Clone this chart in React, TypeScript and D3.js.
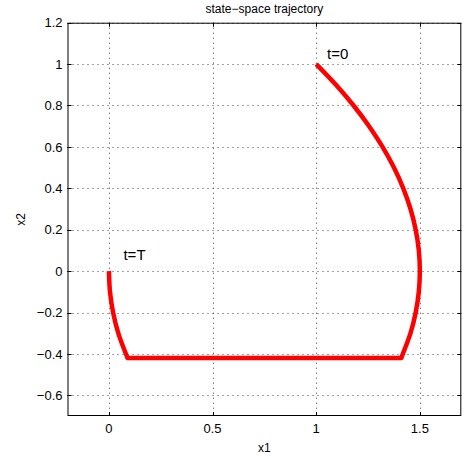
import React, { useEffect, useRef } from 'react';
import * as d3 from 'd3';

// trajectory (x1, x2)
const x1Values = [1.0, 1.095, 1.18, 1.255, 1.32, 1.375, 1.42, 1.455, 1.48, 1.495, 1.5, 1.495, 1.48, 1.455, 1.41, 0.09, 0.045, 0.02, 0.005, 0.0];
const x2Values = [1.0, 0.9, 0.8, 0.7, 0.6, 0.5, 0.4, 0.3, 0.2, 0.1, 0.0, -0.1, -0.2, -0.3, -0.42, -0.42, -0.3, -0.2, -0.1, 0.0];

const xTicks = [0, 0.5, 1, 1.5];
const yTicks = [-0.6, -0.4, -0.2, 0, 0.2, 0.4, 0.6, 0.8, 1, 1.2];

const annotations = [
    { label: 't=0', x1: 1.052, x2: 1.025 },
    { label: 't=T', x1: 0.07, x2: 0.052 },
];

const fmt = (v: number) => {
    const s = d3.format('~g')(Math.round(v * 10) / 10);
    return s.replace('-', '\u2013');
};

const App = () => {
    const svgRef = useRef<SVGSVGElement>(null);

    useEffect(() => {
        const svg = d3.select(svgRef.current);
        svg.selectAll('*').remove();

        const left = 67.5, right = 461.3, top = 22.7, bottom = 416;
        const width = right - left;
        const height = bottom - top;
        const font = 'Liberation Sans, Arial, Helvetica, sans-serif';

        const x = d3.scaleLinear().domain([-0.2, 1.7]).range([left, right]);
        const y = d3.scaleLinear().domain([-0.7, 1.2]).range([bottom, top]);

        svg.append('rect')
            .attr('x', left).attr('y', top)
            .attr('width', width).attr('height', height)
            .attr('fill', '#fff');

        // Grid lines
        const grid = svg.append('g')
            .attr('stroke', '#444')
            .attr('stroke-width', 1)
            .attr('stroke-dasharray', '1,4');
        grid.selectAll('.gx').data(xTicks).enter().append('line')
            .attr('x1', d => Math.round(x(d)) + 0.5).attr('x2', d => Math.round(x(d)) + 0.5)
            .attr('y1', top).attr('y2', bottom);
        grid.selectAll('.gy').data(yTicks).enter().append('line')
            .attr('y1', d => Math.round(y(d)) + 0.5).attr('y2', d => Math.round(y(d)) + 0.5)
            .attr('x1', left).attr('x2', right);

        // Inward ticks on all four sides
        const tickLen = 4;
        const ticks = svg.append('g').attr('stroke', '#000').attr('stroke-width', 1);
        xTicks.forEach(d => {
            const px = Math.round(x(d)) + 0.5;
            ticks.append('line').attr('x1', px).attr('x2', px).attr('y1', bottom).attr('y2', bottom - tickLen);
            ticks.append('line').attr('x1', px).attr('x2', px).attr('y1', top).attr('y2', top + tickLen);
        });
        yTicks.forEach(d => {
            const py = Math.round(y(d)) + 0.5;
            ticks.append('line').attr('y1', py).attr('y2', py).attr('x1', left).attr('x2', left + tickLen);
            ticks.append('line').attr('y1', py).attr('y2', py).attr('x1', right).attr('x2', right - tickLen);
        });

        // Trajectory
        const pts: [number, number][] = x1Values.map((v, i) => [v, x2Values[i]]);
        const lw = 4.5;

        const seg1 = pts.slice(0, 15);
        const seg2 = pts.slice(14, 16);
        const seg3 = pts.slice(15);
        svg.append('path').datum(seg1)
            .attr('fill', 'none').attr('stroke', '#ff0000').attr('stroke-width', lw)
            .attr('d', d3.line<[number, number]>().x(d => x(d[0])).y(d => y(d[1])).curve(d3.curveCatmullRom));
        svg.append('path').datum(seg2)
            .attr('fill', 'none').attr('stroke', '#ff0000').attr('stroke-width', lw)
            .attr('d', d3.line<[number, number]>().x(d => x(d[0])).y(d => y(d[1])));
        svg.append('path').datum(seg3)
            .attr('fill', 'none').attr('stroke', '#ff0000').attr('stroke-width', lw)
            .attr('d', d3.line<[number, number]>().x(d => x(d[0])).y(d => y(d[1])).curve(d3.curveMonotoneY));
        // joints
        svg.selectAll('.joint').data([pts[14], pts[15]]).enter().append('circle')
            .attr('cx', d => x(d[0])).attr('cy', d => y(d[1])).attr('r', lw / 2)
            .attr('fill', '#ff0000');

        // Axes box
        svg.append('rect')
            .attr('x', left + 0.5).attr('y', top + 0.5)
            .attr('width', width - 1).attr('height', height - 1)
            .attr('fill', 'none').attr('stroke', '#000').attr('stroke-width', 1);

        // Tick labels
        svg.append('g').selectAll('text').data(xTicks).enter().append('text')
            .attr('x', d => x(d)).attr('y', 433)
            .attr('text-anchor', 'middle')
            .attr('font-family', font).attr('font-size', 13)
            .text(d => fmt(d));
        svg.append('g').selectAll('text').data(yTicks).enter().append('text')
            .attr('x', 62.5).attr('y', d => y(d)).attr('dy', '0.36em')
            .attr('text-anchor', 'end')
            .attr('font-family', font).attr('font-size', 13)
            .text(d => fmt(d));

        // Annotations
        svg.append('g').selectAll('text').data(annotations).enter().append('text')
            .attr('x', d => x(d.x1)).attr('y', d => y(d.x2))
            .attr('font-family', font).attr('font-size', 15)
            .text(d => d.label);

        // Title and axis labels
        svg.append('text')
            .attr('x', (left + right) / 2).attr('y', 13)
            .attr('text-anchor', 'middle')
            .attr('font-family', font).attr('font-size', 12)
            .text('state\u2212space trajectory');
        svg.append('text')
            .attr('x', (left + right) / 2).attr('y', 452)
            .attr('text-anchor', 'middle')
            .attr('font-family', font).attr('font-size', 12)
            .text('x1');
        svg.append('text')
            .attr('transform', `translate(25,${(top + bottom) / 2}) rotate(-90)`)
            .attr('text-anchor', 'middle')
            .attr('font-family', font).attr('font-size', 12)
            .text('x2');
    }, []);

    return (
        <svg ref={svgRef} width={469} height={459}
            style={{ position: 'absolute', left: 0, top: 0, background: '#fff' }} />
    );
};

export default App;
